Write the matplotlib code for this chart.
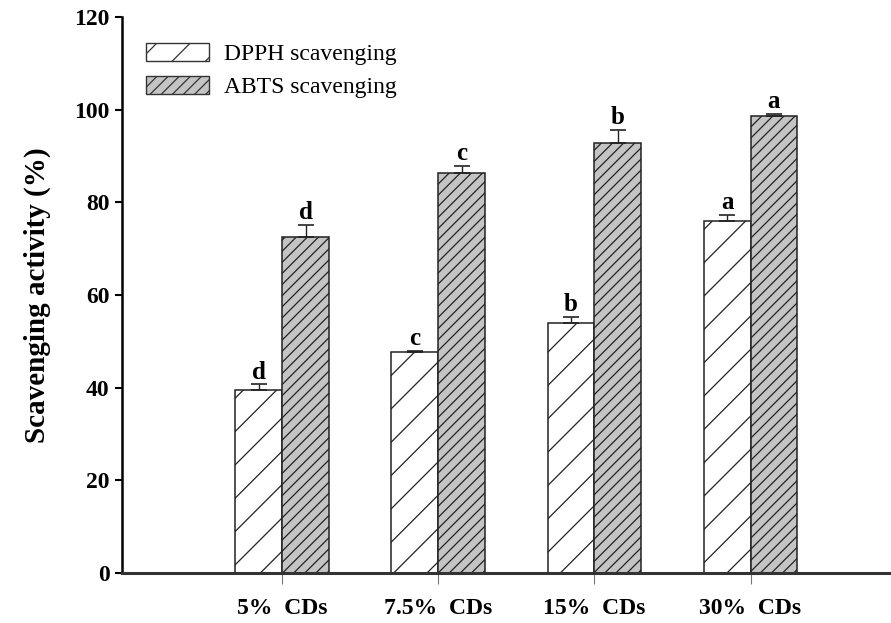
import numpy as np
import matplotlib.pyplot as plt
from matplotlib.patches import Patch

# data
groups = ["5%  CDs", "7.5%  CDs", "15%  CDs", "30%  CDs"]
dpph = [39.6, 47.7, 54.0, 75.9]
dpph_err = [1.1, 0.3, 1.2, 1.3]
abts = [72.6, 86.3, 92.8, 98.6]
abts_err = [2.6, 1.5, 2.8, 0.5]
dpph_letters = ["d", "c", "b", "a"]
abts_letters = ["d", "c", "b", "a"]

plt.rcParams['font.family'] = ['Liberation Serif', 'DejaVu Serif']
plt.rcParams['hatch.linewidth'] = 0.9

fig = plt.figure(figsize=(8.91, 6.23), dpi=100)
ax = fig.add_axes([0.137, 0.080, 0.863, 0.893])

x = np.arange(len(groups))
w = 0.3

ax.bar(x - w / 2, dpph, w, color='white', edgecolor='#222222', hatch='/', linewidth=1.1, zorder=2)
ax.bar(x + w / 2, abts, w, color='#c4c4c4', edgecolor='#222222', hatch='///', linewidth=1.1, zorder=2)
ax.errorbar(x - w / 2, dpph, yerr=[np.zeros(4), dpph_err], fmt='none', ecolor='#222222',
            elinewidth=1.0, capsize=6, capthick=1.2, zorder=3)
ax.errorbar(x + w / 2, abts, yerr=[np.zeros(4), abts_err], fmt='none', ecolor='#222222',
            elinewidth=1.0, capsize=6, capthick=1.2, zorder=3)

for i in range(len(groups)):
    ax.text(x[i] - w / 2, dpph[i] + dpph_err[i] + 0.2, dpph_letters[i], ha='center', va='bottom',
            fontsize=18, fontweight='bold')
    ax.text(x[i] + w / 2, abts[i] + abts_err[i] + 0.2, abts_letters[i], ha='center', va='bottom',
            fontsize=18, fontweight='bold')

ax.set_xlim(-1.026, 3.90)
ax.set_ylim(0, 120)
ax.set_yticks(range(0, 121, 20))
ax.set_xticks(x)
ax.set_xticklabels(groups, fontsize=17, fontweight='bold')
for lab in ax.get_yticklabels():
    lab.set_fontsize(17)
    lab.set_fontweight('bold')

ax.spines['top'].set_visible(False)
ax.spines['right'].set_visible(False)
ax.spines['left'].set_linewidth(1.8)
ax.spines['bottom'].set_linewidth(2.2)
ax.spines['bottom'].set_color('#333333')
ax.tick_params(axis='y', direction='out', length=5, width=1.5, pad=4)
ax.tick_params(axis='x', direction='out', length=8, width=0.8, color='#777777', pad=10)

ax.set_ylabel("Scavenging activity (%)", fontsize=21, fontweight='bold', labelpad=17)

handles = [Patch(facecolor='white', edgecolor='#333333', hatch='/', label='DPPH scavenging'),
           Patch(facecolor='#c4c4c4', edgecolor='#333333', hatch='///', label='ABTS scavenging')]
ax.legend(handles=handles, loc='upper left', bbox_to_anchor=(0.0, 0.995), frameon=False,
          fontsize=17, handlelength=2.7, handleheight=0.8, handletextpad=0.6,
          labelspacing=0.45, borderaxespad=0.6)

fig.savefig('out.png', dpi=100)
